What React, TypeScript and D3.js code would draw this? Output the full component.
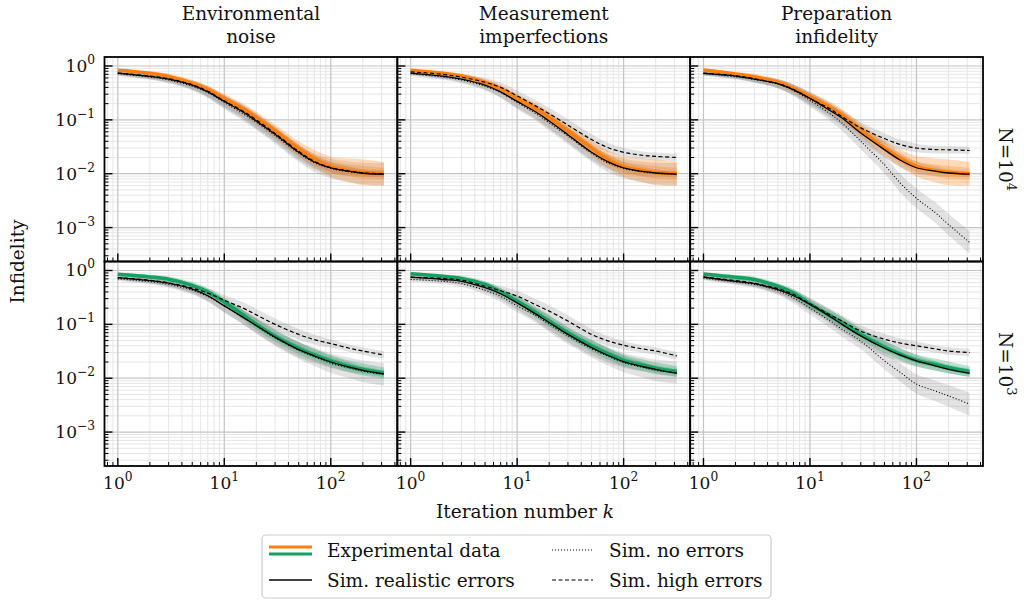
import React from 'react';
import * as d3 from 'd3';

// Iteration numbers sampled along each curve
const K = [1, 2, 3, 5, 7, 10, 15, 20, 30, 50, 70, 100, 150, 200, 316];

const columnTitles = [
  ['Environmental', 'noise'],
  ['Measurement', 'imperfections'],
  ['Preparation', 'infidelity'],
];
const rowExponents = ['4', '3'];
const xTickExps = [0, 1, 2];
const yTickExps = [0, -1, -2, -3];

// Row N=10^4 (orange)
const envN4Exp = [0.83, 0.73, 0.64, 0.48, 0.37, 0.25, 0.16, 0.11, 0.062, 0.029, 0.019, 0.0135, 0.0115, 0.0106, 0.01];
const envN4Real = [0.74, 0.64, 0.57, 0.44, 0.33, 0.22, 0.14, 0.095, 0.054, 0.025, 0.0165, 0.0128, 0.011, 0.0102, 0.0098];
const envN4None = [0.72, 0.62, 0.55, 0.42, 0.32, 0.21, 0.13, 0.09, 0.051, 0.024, 0.016, 0.0125, 0.0108, 0.0101, 0.0097];
const envN4High = [0.74, 0.65, 0.58, 0.45, 0.34, 0.225, 0.145, 0.1, 0.056, 0.026, 0.017, 0.013, 0.0112, 0.0104, 0.0099];

const measN4Exp = [0.83, 0.73, 0.65, 0.5, 0.38, 0.25, 0.16, 0.11, 0.062, 0.03, 0.019, 0.0135, 0.0115, 0.0106, 0.01];
const measN4Real = [0.74, 0.65, 0.57, 0.44, 0.33, 0.22, 0.14, 0.095, 0.053, 0.025, 0.017, 0.0128, 0.011, 0.0103, 0.0098];
const measN4None = [0.72, 0.62, 0.55, 0.42, 0.32, 0.21, 0.13, 0.088, 0.05, 0.024, 0.016, 0.0125, 0.0108, 0.0101, 0.0097];
const measN4High = [0.78, 0.7, 0.62, 0.5, 0.4, 0.28, 0.18, 0.13, 0.08, 0.043, 0.031, 0.025, 0.022, 0.021, 0.02];

const prepN4Exp = [0.84, 0.71, 0.63, 0.5, 0.38, 0.27, 0.177, 0.123, 0.065, 0.03, 0.0196, 0.0137, 0.0115, 0.0106, 0.01];
const prepN4Real = [0.73, 0.65, 0.57, 0.47, 0.36, 0.25, 0.154, 0.108, 0.057, 0.028, 0.018, 0.0129, 0.0112, 0.0103, 0.0098];
const prepN4None = [0.72, 0.63, 0.56, 0.46, 0.35, 0.23, 0.135, 0.087, 0.04, 0.0147, 0.0068, 0.0035, 0.0019, 0.00114, 0.00053];
const prepN4High = [0.74, 0.66, 0.58, 0.47, 0.37, 0.25, 0.165, 0.115, 0.071, 0.045, 0.035, 0.03, 0.028, 0.0278, 0.027];

// Row N=10^3 (green)
const envN3Exp = [0.85, 0.76, 0.69, 0.53, 0.4, 0.26, 0.15, 0.1, 0.06, 0.036, 0.027, 0.021, 0.0165, 0.0145, 0.0125];
const envN3Real = [0.74, 0.65, 0.58, 0.45, 0.34, 0.22, 0.135, 0.095, 0.058, 0.034, 0.026, 0.02, 0.016, 0.014, 0.012];
const envN3None = [0.7, 0.62, 0.55, 0.43, 0.33, 0.22, 0.135, 0.093, 0.056, 0.033, 0.025, 0.019, 0.0155, 0.0135, 0.0118];
const envN3High = [0.74, 0.66, 0.59, 0.47, 0.38, 0.28, 0.2, 0.15, 0.1, 0.065, 0.052, 0.044, 0.036, 0.032, 0.027];

const measN3Exp = [0.87, 0.78, 0.71, 0.55, 0.4, 0.27, 0.165, 0.115, 0.07, 0.04, 0.029, 0.0215, 0.0175, 0.0153, 0.0133];
const measN3Real = [0.75, 0.68, 0.63, 0.48, 0.37, 0.25, 0.155, 0.108, 0.065, 0.037, 0.027, 0.0204, 0.0165, 0.0146, 0.0123];
const measN3None = [0.68, 0.63, 0.57, 0.43, 0.33, 0.22, 0.145, 0.1, 0.061, 0.035, 0.026, 0.0195, 0.016, 0.014, 0.0127];
const measN3High = [0.75, 0.71, 0.66, 0.51, 0.42, 0.335, 0.23, 0.176, 0.115, 0.065, 0.05, 0.041, 0.035, 0.032, 0.026];

const prepN3Exp = [0.86, 0.75, 0.68, 0.51, 0.38, 0.24, 0.15, 0.109, 0.065, 0.038, 0.028, 0.0215, 0.018, 0.0158, 0.0133];
const prepN3Real = [0.75, 0.63, 0.57, 0.44, 0.34, 0.235, 0.145, 0.1, 0.061, 0.036, 0.027, 0.021, 0.017, 0.0146, 0.0123];
const prepN3None = [0.72, 0.61, 0.55, 0.42, 0.31, 0.2, 0.12, 0.081, 0.049, 0.021, 0.013, 0.0078, 0.0058, 0.0047, 0.0033];
const prepN3High = [0.76, 0.65, 0.58, 0.46, 0.36, 0.24, 0.155, 0.115, 0.075, 0.053, 0.045, 0.04, 0.035, 0.032, 0.03];

// Half-widths of the shaded bands, in decades
const expSpreadN4 = [0.03, 0.04, 0.05, 0.06, 0.07, 0.08, 0.1, 0.11, 0.12, 0.14, 0.16, 0.19, 0.22, 0.24, 0.22];
const expSpreadN3 = [0.03, 0.04, 0.05, 0.06, 0.07, 0.08, 0.09, 0.1, 0.1, 0.11, 0.11, 0.11, 0.11, 0.11, 0.1];
const realSpread = [0.04, 0.05, 0.06, 0.08, 0.1, 0.12, 0.13, 0.14, 0.14, 0.14, 0.13, 0.11, 0.09, 0.07, 0.06];
const noneSpread = [0.04, 0.05, 0.06, 0.08, 0.1, 0.12, 0.13, 0.14, 0.15, 0.16, 0.17, 0.18, 0.19, 0.2, 0.21];
const highSpread = [0.04, 0.05, 0.06, 0.08, 0.09, 0.1, 0.11, 0.11, 0.11, 0.1, 0.09, 0.08, 0.07, 0.07, 0.07];

const ORANGE = '#ff7f0e';
const GREEN = '#17a062';
const FONT = "'DejaVu Serif', serif";
const FS = 18.5;
const TICK_FS = 17;

const panels = [
  { row: 0, col: 0, exp: envN4Exp, real: envN4Real, none: envN4None, high: envN4High },
  { row: 0, col: 1, exp: measN4Exp, real: measN4Real, none: measN4None, high: measN4High },
  { row: 0, col: 2, exp: prepN4Exp, real: prepN4Real, none: prepN4None, high: prepN4High },
  { row: 1, col: 0, exp: envN3Exp, real: envN3Real, none: envN3None, high: envN3High },
  { row: 1, col: 1, exp: measN3Exp, real: measN3Real, none: measN3None, high: measN3High },
  { row: 1, col: 2, exp: prepN3Exp, real: prepN3Real, none: prepN3None, high: prepN3High },
];

const LEFT = 104.5;
const RIGHT = 983;
const TOP = 57;
const BOTTOM = 466;
const PW = (RIGHT - LEFT) / 3;
const PH = (BOTTOM - TOP) / 2;

function Pow10({ x, y, exp, anchor, size = TICK_FS }: any) {
  const e = exp < 0 ? '\u2212' + Math.abs(exp) : String(exp);
  return (
    <text x={x} y={y} textAnchor={anchor} fontFamily={FONT} fontSize={size} fill="#111">
      10<tspan dy={-8} fontSize={size * 0.72}>{e}</tspan>
    </text>
  );
}

function Panel({ p }: any) {
  const x0 = LEFT + p.col * PW;
  const y0 = TOP + p.row * PH;
  const xs = d3.scaleLog().domain([10 ** -0.125, 10 ** 2.625]).range([x0, x0 + PW]);
  const ys = d3.scaleLog().domain([10 ** -3.63, 10 ** 0.167]).range([y0 + PH, y0]);
  const id = `clip${p.row}${p.col}`;
  const color = p.row === 0 ? ORANGE : GREEN;
  const expSpread = p.row === 0 ? expSpreadN4 : expSpreadN3;
  const curve = d3.curveCatmullRom.alpha(0.5);

  const line = (vals: number[]) =>
    d3.line<number>().x((_, i) => xs(K[i])).y((v) => ys(v)).curve(curve)(vals) || '';
  const band = (vals: number[], spread: number[], f = 1) =>
    d3
      .area<number>()
      .x((_, i) => xs(K[i]))
      .y0((v, i) => ys(v * 10 ** (-spread[i] * f)))
      .y1((v, i) => ys(v * 10 ** (spread[i] * f)))
      .curve(curve)(vals) || '';

  const minorX: number[] = [];
  const majorX: number[] = [];
  for (let d = -1; d <= 2; d++) {
    for (let m = 1; m <= 9; m++) {
      const v = m * 10 ** d;
      if (v < xs.domain()[0] || v > xs.domain()[1]) continue;
      if (m === 1) majorX.push(v);
      else minorX.push(v);
    }
  }
  const minorY: number[] = [];
  const majorY: number[] = [];
  for (let d = -4; d <= 0; d++) {
    for (let m = 1; m <= 9; m++) {
      const v = m * 10 ** d;
      if (v < ys.domain()[0] || v > ys.domain()[1]) continue;
      if (m === 1) majorY.push(v);
      else minorY.push(v);
    }
  }

  return (
    <g>
      <defs>
        <clipPath id={id}>
          <rect x={x0} y={y0} width={PW} height={PH} />
        </clipPath>
      </defs>
      <g clipPath={`url(#${id})`}>
        {minorX.map((v) => (
          <line key={'mx' + v} x1={xs(v)} x2={xs(v)} y1={y0} y2={y0 + PH} stroke="#e6e6e6" strokeWidth={1} />
        ))}
        {minorY.map((v) => (
          <line key={'my' + v} x1={x0} x2={x0 + PW} y1={ys(v)} y2={ys(v)} stroke="#e6e6e6" strokeWidth={1} />
        ))}
        {majorX.map((v) => (
          <line key={'Mx' + v} x1={xs(v)} x2={xs(v)} y1={y0} y2={y0 + PH} stroke="#c4c4c4" strokeWidth={1.2} />
        ))}
        {majorY.map((v) => (
          <line key={'My' + v} x1={x0} x2={x0 + PW} y1={ys(v)} y2={ys(v)} stroke="#c4c4c4" strokeWidth={1.2} />
        ))}

        <path d={band(p.high, highSpread)} fill="#808080" fillOpacity={0.22} />
        <path d={band(p.none, noneSpread)} fill="#808080" fillOpacity={0.22} />
        <path d={band(p.real, realSpread)} fill="#808080" fillOpacity={0.28} />
        <path d={band(p.exp, expSpread)} fill={color} fillOpacity={0.28} />
        <path d={band(p.exp, expSpread, 0.5)} fill={color} fillOpacity={0.28} />
        <path d={line(p.exp)} fill="none" stroke={color} strokeWidth={3.5} />
        <path d={line(p.real)} fill="none" stroke="#000" strokeWidth={1.3} />
        <path d={line(p.none)} fill="none" stroke="#000" strokeWidth={1.1} strokeDasharray="1,2" />
        <path d={line(p.high)} fill="none" stroke="#000" strokeWidth={1.2} strokeDasharray="4,2.5" />
      </g>

      {minorY.map((v) => (
        <line key={'ty' + v} x1={x0} x2={x0 + 4} y1={ys(v)} y2={ys(v)} stroke="#000" strokeWidth={1} />
      ))}
      {majorY.map((v) => (
        <line key={'tY' + v} x1={x0} x2={x0 + 8} y1={ys(v)} y2={ys(v)} stroke="#000" strokeWidth={1.4} />
      ))}
      {minorX.map((v) => (
        <line key={'tx' + v} x1={xs(v)} x2={xs(v)} y1={y0 + PH} y2={y0 + PH - 4} stroke="#000" strokeWidth={1} />
      ))}
      {majorX.map((v) => (
        <line key={'tX' + v} x1={xs(v)} x2={xs(v)} y1={y0 + PH} y2={y0 + PH - 8} stroke="#000" strokeWidth={1.4} />
      ))}

      <rect x={x0} y={y0} width={PW} height={PH} fill="none" stroke="#000" strokeWidth={1.8} />

      {p.col === 0 &&
        yTickExps.map((e) => <Pow10 key={'yl' + e} x={95} y={ys(10 ** e) + 6} exp={e} anchor="end" />)}
      {p.row === 1 &&
        xTickExps.map((e) => <Pow10 key={'xl' + e} x={xs(10 ** e)} y={489} exp={e} anchor="middle" />)}
    </g>
  );
}

export default function App() {
  return (
    <svg width={1024} height={601} style={{ position: 'absolute', left: 0, top: 0, background: '#fff' }}>
      <rect x={0} y={0} width={1024} height={601} fill="#fff" />
      {panels.map((p) => (
        <Panel key={`${p.row}-${p.col}`} p={p} />
      ))}

      {columnTitles.map((t, c) => (
        <g key={'title' + c}>
          <text x={LEFT + PW * (c + 0.5)} y={20} textAnchor="middle" fontFamily={FONT} fontSize={FS} fill="#111">
            {t[0]}
          </text>
          <text x={LEFT + PW * (c + 0.5)} y={43} textAnchor="middle" fontFamily={FONT} fontSize={FS} fill="#111">
            {t[1]}
          </text>
        </g>
      ))}

      {rowExponents.map((e, r) => (
        <text
          key={'row' + r}
          transform={`translate(999,${TOP + PH * (r + 0.5)}) rotate(90)`}
          textAnchor="middle"
          fontFamily={FONT}
          fontSize={FS}
          fill="#111"
        >
          N=10<tspan dy={-8} fontSize={13}>{e}</tspan>
        </text>
      ))}

      <text
        transform={`translate(24,${(TOP + BOTTOM) / 2}) rotate(-90)`}
        textAnchor="middle"
        fontFamily={FONT}
        fontSize={FS}
        fill="#111"
      >
        Infidelity
      </text>
      <text x={525} y={518} textAnchor="middle" fontFamily={FONT} fontSize={FS} fill="#111">
        Iteration number <tspan fontStyle="italic">k</tspan>
      </text>

      <g>
        <rect x={262} y={535} width={509} height={63} rx={4} fill="#fff" fillOpacity={0.8} stroke="#cccccc" strokeWidth={1.2} />
        <line x1={269} x2={312} y1={547} y2={547} stroke={ORANGE} strokeWidth={3} />
        <line x1={269} x2={312} y1={554} y2={554} stroke={GREEN} strokeWidth={3} />
        <text x={327} y={557} fontFamily={FONT} fontSize={FS} fill="#111">Experimental data</text>
        <line x1={269} x2={312} y1={580} y2={580} stroke="#000" strokeWidth={1.3} />
        <text x={327} y={587} fontFamily={FONT} fontSize={FS} fill="#111">Sim. realistic errors</text>
        <line x1={552} x2={593} y1={550} y2={550} stroke="#000" strokeWidth={1.1} strokeDasharray="1,2" />
        <text x={609} y={557} fontFamily={FONT} fontSize={FS} fill="#111">Sim. no errors</text>
        <line x1={552} x2={593} y1={580} y2={580} stroke="#000" strokeWidth={1.2} strokeDasharray="4,2.5" />
        <text x={609} y={587} fontFamily={FONT} fontSize={FS} fill="#111">Sim. high errors</text>
      </g>
    </svg>
  );
}
